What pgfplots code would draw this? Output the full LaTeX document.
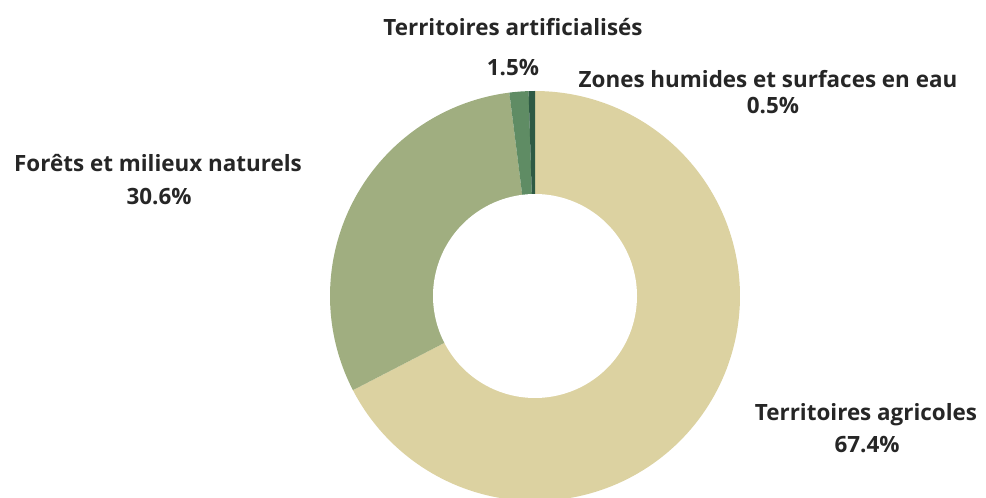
\documentclass[border=0pt]{standalone}
\usepackage{fontspec}
\setmainfont{Open Sans}
\usepackage{pgfplots}
\pgfplotsset{compat=1.18}
\usepackage{pgfplotstable}
\definecolor{agri}{HTML}{DCD2A1}
\definecolor{foret}{HTML}{A0AE80}
\definecolor{artif}{HTML}{5F8C64}
\definecolor{eau}{HTML}{2E5A44}
% shares (%) of each land-use class
\def\pAgri{67.4}
\def\pForet{30.6}
\def\pArtif{1.5}
\def\pEau{0.5}
% centre and radii (in px of the reference)
\def\cx{535}
\def\cy{202}
\def\R{205}
\def\r{102}
% angles: start at top (90 deg), clockwise
\pgfmathsetmacro{\aA}{90}
\pgfmathsetmacro{\aB}{\aA-3.6*\pAgri}
\pgfmathsetmacro{\aC}{\aB-3.6*\pForet}
\pgfmathsetmacro{\aD}{\aC-3.6*\pArtif}
\pgfmathsetmacro{\aE}{\aD-3.6*\pEau}
\begin{document}
\begin{tikzpicture}
\begin{axis}[hide axis, scale only axis, width=986bp, height=498bp,
  xmin=0, xmax=986, ymin=0, ymax=498, variable=\t,
  font=\fontsize{22.5}{26}\selectfont\bfseries]
\path (axis cs:0,0) rectangle (axis cs:986,498);
\addplot[fill=agri, draw=none, domain=\aB:\aA, samples=150] ({\cx+\R*cos(t)},{\cy+\R*sin(t)}) -- (axis cs:\cx,\cy) -- cycle;
\addplot[fill=foret, draw=none, domain=\aC:\aB, samples=80] ({\cx+\R*cos(t)},{\cy+\R*sin(t)}) -- (axis cs:\cx,\cy) -- cycle;
\addplot[fill=artif, draw=none, domain=\aD:\aC, samples=8] ({\cx+\R*cos(t)},{\cy+\R*sin(t)}) -- (axis cs:\cx,\cy) -- cycle;
\addplot[fill=eau, draw=none, domain=\aE:\aD, samples=4] ({\cx+\R*cos(t)},{\cy+\R*sin(t)}) -- (axis cs:\cx,\cy) -- cycle;
\addplot[fill=white, draw=none, domain=0:360, samples=150] ({\cx+\r*cos(t)},{\cy+\r*sin(t)}) -- cycle;
\node[anchor=base, text=black!85] at (axis cs:513,462) {Territoires artificialisés};
\node[anchor=base, text=black!85] at (axis cs:513,422) {1.5\%};
\node[anchor=base, text=black!85] at (axis cs:768,410) {Zones humides et surfaces en eau};
\node[anchor=base, text=black!85] at (axis cs:773,384) {0.5\%};
\node[anchor=base, text=black!85] at (axis cs:158,326) {Forêts et milieux naturels};
\node[anchor=base, text=black!85] at (axis cs:159,293) {30.6\%};
\node[anchor=base, text=black!85] at (axis cs:866,77) {Territoires agricoles};
\node[anchor=base, text=black!85] at (axis cs:867,45) {67.4\%};
\end{axis}
\end{tikzpicture}
\end{document}
